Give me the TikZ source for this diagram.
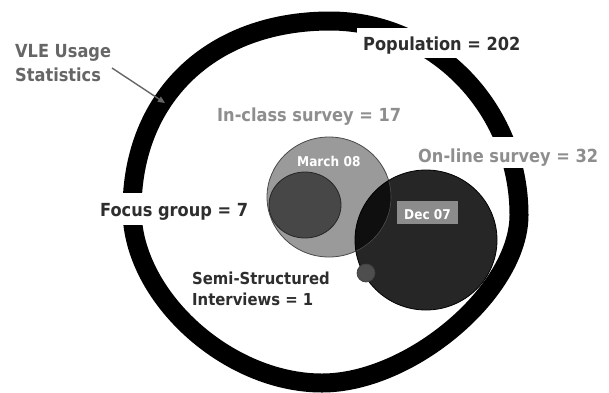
\documentclass[tikz,border=0pt]{standalone}
\usepackage{fontspec}
\newfontfamily\lab{DejaVuSansCondensed-Bold.ttf}
\usetikzlibrary{arrows.meta}
\definecolor{txtdark}{HTML}{2E2E2E}
\definecolor{txtmid}{HTML}{666666}
\definecolor{txtlight}{HTML}{8E8E8E}
\definecolor{inclass}{HTML}{9A9A9A}
\definecolor{inclassline}{HTML}{4A4A4A}
\definecolor{focusfill}{HTML}{474747}
\definecolor{onlinefill}{HTML}{262626}
\definecolor{lensfill}{HTML}{0F0F0F}
\definecolor{semifill}{HTML}{4E4E4E}
\definecolor{decbox}{HTML}{8C8C8C}
\tikzset{
  ring/.style={line width=19pt, black},
  biglabel/.style={font=\lab\fontsize{18}{21}\selectfont, inner sep=0pt, anchor=base west},
  semilabel/.style={font=\lab\fontsize{16.5}{20}\selectfont, inner sep=0pt, anchor=base west, text=txtdark},
  smalllabel/.style={font=\lab\fontsize{13.5}{16}\selectfont, inner sep=0pt, anchor=base west, text=white},
  cutbox/.style={fill=white, inner ysep=0pt},
  vlearrow/.style={draw=txtmid, line width=1.4pt, -{Triangle[length=7pt,width=6pt]}},
}
\begin{document}
\begin{tikzpicture}[x=1pt,y=-1pt]
\useasboundingbox (0,0) rectangle (609,392);
\fill[white] (0,0) rectangle (609,392);

% outer ring (population)
\draw[ring] (132,210) .. controls (132,97) and (211,21) .. (330,21)
  .. controls (434,21) and (519,108) .. (519,215)
  .. controls (519,291) and (411,383) .. (322,383)
  .. controls (227,383) and (132,296) .. (132,210) -- cycle;

% labels with white boxes that cut the ring
\node[biglabel, cutbox, text=txtdark, inner xsep=6pt, text height=22pt, text depth=8pt] (pop) at (357,50) {Population = 202};
\node[biglabel, cutbox, text=txtdark, inner xsep=4pt, text height=23pt, text depth=9pt] (focus) at (96,216) {Focus group = 7};
\node[biglabel, cutbox, text=txtlight, inner xsep=4pt, text height=25pt, text depth=6pt] (online) at (414,162) {On-line survey = 32};

% in-class circle
\fill[inclass, draw=inclassline, line width=0.8pt] (329,197) ellipse [x radius=62pt, y radius=60pt];
% focus group circle
\fill[focusfill, draw=black!85, line width=0.8pt] (305,205) ellipse [x radius=36pt, y radius=33pt];
% on-line circle
\fill[onlinefill] (426,240) ellipse [x radius=71pt, y radius=70pt];
\begin{scope}
  \clip (426,240) ellipse [x radius=71pt, y radius=70pt];
  \fill[lensfill] (329,197) ellipse [x radius=62pt, y radius=60pt];
  \draw[black!70, line width=0.6pt] (329,197) ellipse [x radius=62pt, y radius=60pt];
\end{scope}
\draw[black, line width=0.8pt] (426,240) ellipse [x radius=71pt, y radius=70pt];
% semi-structured interview circle
\fill[semifill, draw=black!75, line width=0.7pt] (366,273) circle [radius=9pt];

% inner labels
\node[smalllabel] (march) at (297,166) {March 08};
\node[smalllabel, fill=decbox, inner xsep=7pt, text height=18pt, text depth=5pt] (dec) at (397,219) {Dec 07};

% other labels
\node[biglabel, text=txtlight] (inclasslbl) at (217,121) {In-class survey = 17};
\node[biglabel, text=txtmid] (vleA) at (15,57) {VLE Usage};
\node[biglabel, text=txtmid] (vleB) at (15,81) {Statistics};
\node[semilabel] (semiA) at (192,284) {Semi-Structured};
\node[semilabel] (semiB) at (192,305) {Interviews = 1};

% arrow from VLE label to the ring
\coordinate (vletail) at (112,68);
\coordinate (vletip) at (165,103);
\draw[vlearrow] (vletail) -- (vletip);
\end{tikzpicture}
\end{document}
